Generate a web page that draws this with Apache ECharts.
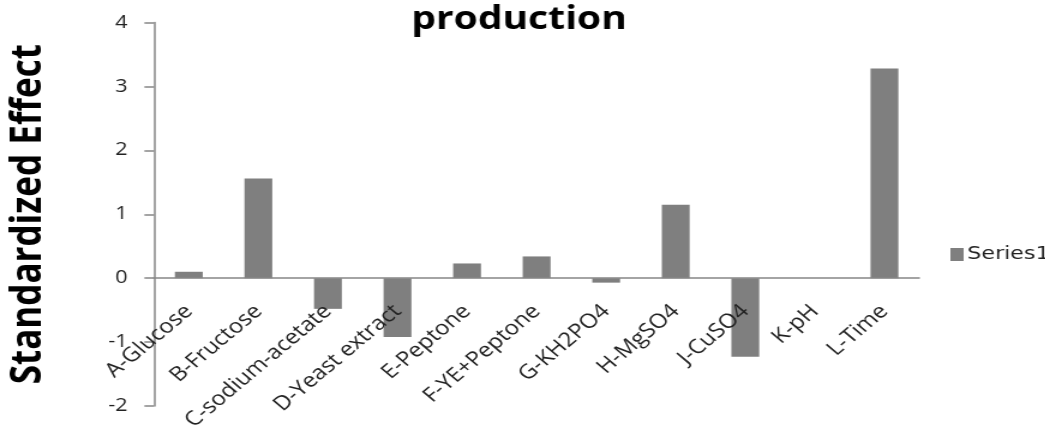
<!DOCTYPE html>
<html>
<head>
<meta charset="utf-8">
<script src="https://cdn.jsdelivr.net/npm/echarts@6/dist/echarts.min.js"></script>
<style>
  html, body { margin: 0; padding: 0; background: #fff; overflow: hidden; }
  /* chart is drawn on a narrower canvas and widened horizontally */
  #chart { width: 870.83px; height: 433px; transform: scaleX(1.2); transform-origin: 0 0; }
</style>
</head>
<body>
<div id="chart"></div>
<script>
// Factor labels and their standardized effects
const categories = ['A-Glucose', 'B-Fructose', 'C-sodium-acetate', 'D-Yeast extract', 'E-Peptone',
  'F-YE+Peptone', 'G-KH2PO4', 'H-MgSO4', 'J-CuSO4', 'K-pH', 'L-Time'];
const effects = [0.10, 1.56, -0.48, -0.92, 0.23, 0.34, -0.07, 1.15, -1.23, 0, 3.28];
const seriesName = 'Series1';
const titleText = 'production';
const yAxisName = 'Standardized Effect';
const yMin = -2, yMax = 4, yStep = 1;

const el = document.getElementById('chart');
const chart = echarts.init(el, null, { renderer: 'canvas' });
const font = '"Open Sans", "Noto Sans", sans-serif';
const axisGray = '#868686';

const gridTop = 22.5, gridBottom = 27;
// the category axis sits on the value-axis zero line, labels included
const plotHeight = el.clientHeight - gridTop - gridBottom;
const zeroOffset = -plotHeight * (0 - yMin) / (yMax - yMin);

chart.setOption({
  animation: false,
  backgroundColor: '#ffffff',
  textStyle: { fontFamily: font },
  title: {
    text: titleText,
    left: 427.5,
    textAlign: 'center',
    top: -2,
    textStyle: { fontFamily: font, fontWeight: 'bold', fontSize: 32.5, color: '#000' }
  },
  legend: {
    data: [seriesName],
    left: 787,
    top: 240,
    orient: 'vertical',
    icon: 'rect',
    itemWidth: 11,
    itemHeight: 13,
    itemGap: 5,
    textStyle: { fontFamily: '"DejaVu Sans", sans-serif', fontSize: 18.5, color: '#222', padding: [0, 0, 0, -2] }
  },
  grid: { left: 128.33, right: 105, top: gridTop, bottom: gridBottom, containLabel: false, outerBoundsMode: 'none' },
  xAxis: {
    type: 'category',
    data: categories,
    offset: zeroOffset,
    z: 5,
    axisLine: { onZero: false, lineStyle: { color: axisGray, width: 1.5 } },
    axisTick: { show: false },
    axisLabel: { interval: 0, rotate: 45, margin: 30, fontFamily: font, fontSize: 20, color: '#222' },
    splitLine: { show: false }
  },
  yAxis: {
    type: 'value',
    min: yMin,
    max: yMax,
    interval: yStep,
    name: yAxisName,
    nameLocation: 'middle',
    nameRotate: 90,
    nameGap: 87,
    nameTextStyle: { fontFamily: font, fontWeight: 'bold', fontSize: 35, color: '#000' },
    axisLine: { show: true, lineStyle: { color: axisGray, width: 1.5 } },
    axisTick: { show: true, inside: false, length: 8, lineStyle: { color: axisGray, width: 1.5 } },
    axisLabel: { margin: 22, fontFamily: font, fontSize: 18, color: '#222' },
    splitLine: { show: false }
  },
  series: [{
    name: seriesName,
    type: 'bar',
    data: effects,
    barWidth: '40%',
    itemStyle: { color: '#7f7f7f' }
  }]
});
</script>
</body>
</html>
